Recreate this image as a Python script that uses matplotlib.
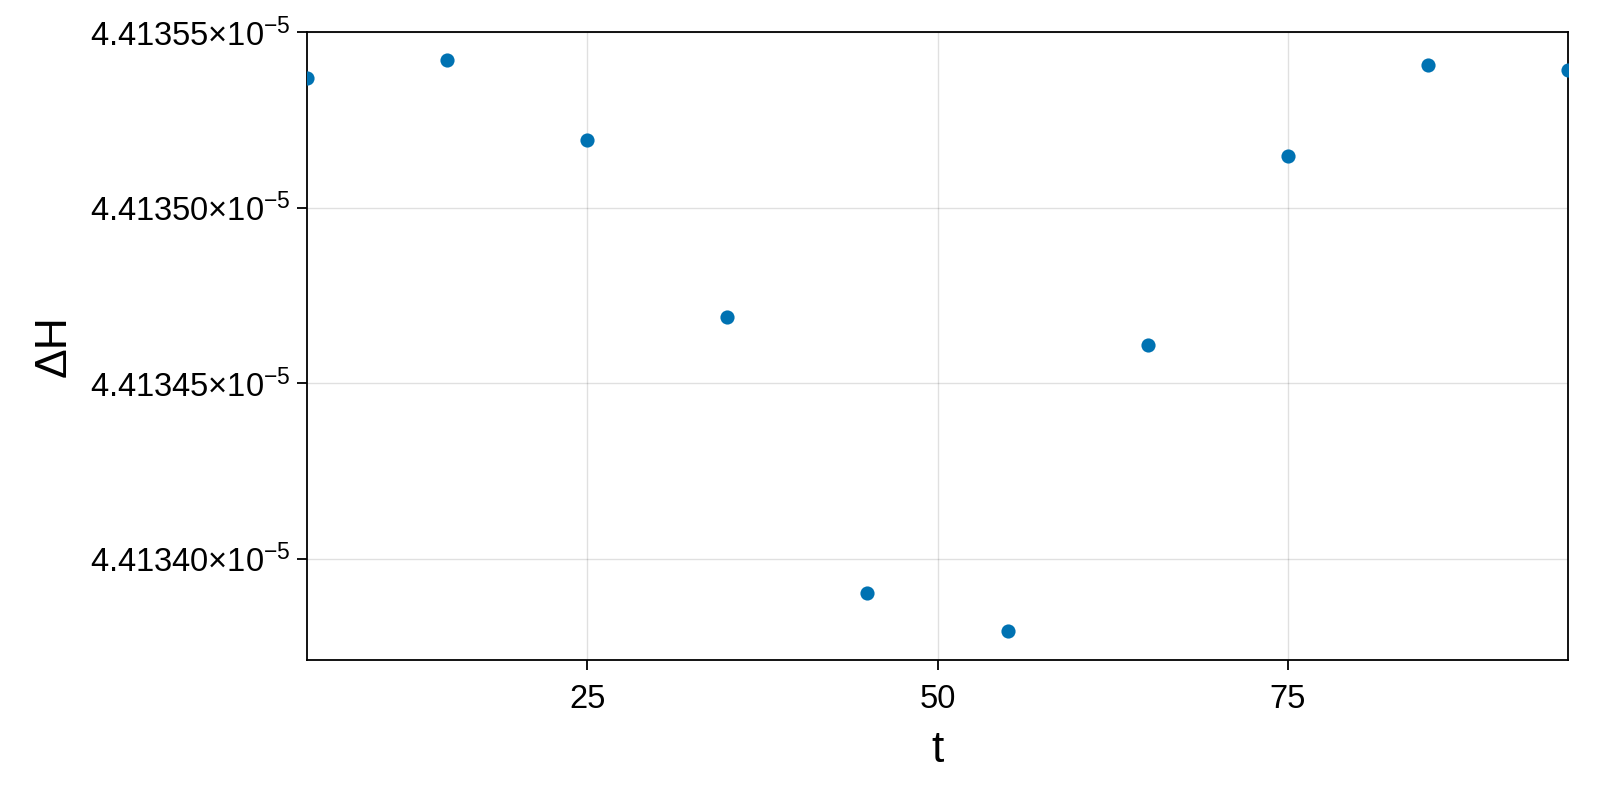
import matplotlib
matplotlib.use("Agg")
import matplotlib.pyplot as plt
from matplotlib.ticker import FixedLocator, FuncFormatter

# energy drift (values in units of 1e-5)
t = [5, 15, 25, 35, 45, 55, 65, 75, 85, 95]
dH = [4.4135370, 4.4135419, 4.4135193, 4.4134687, 4.4133901,
      4.4133795, 4.4134609, 4.4135146, 4.4135406, 4.4135391]
ytick_vals = [4.41340, 4.41345, 4.41350, 4.41355]
xtick_vals = [25, 50, 75]

plt.rcParams["font.family"] = ["Liberation Sans", "DejaVu Sans"]
plt.rcParams["mathtext.fontset"] = "custom"
plt.rcParams["mathtext.rm"] = "Liberation Sans"
plt.rcParams["mathtext.it"] = "Liberation Sans:italic"

scale = 1e-5
fig = plt.figure(figsize=(16, 8), dpi=100)
ax = fig.add_axes([0.1919, 0.175, 0.98 - 0.1919, 0.96 - 0.175])

ax.plot(t, [v * scale for v in dH], "o", color="#0072B2", ms=10.2, mec="none",
        clip_on=True, zorder=3)

ax.set_xlim(5, 95)
ax.set_ylim(4.4133711 * scale, 4.41355 * scale)
ax.xaxis.set_major_locator(FixedLocator(xtick_vals))
ax.yaxis.set_major_locator(FixedLocator([v * scale for v in ytick_vals]))
ax.yaxis.set_major_formatter(FuncFormatter(
    lambda y, _: r"$\mathregular{%.5f{\times}10^{-5}}$" % (y / scale)))

ax.grid(True, color="black", alpha=0.12, lw=1.0)
ax.set_axisbelow(True)
for s in ax.spines.values():
    s.set_linewidth(1.3)
ax.tick_params(direction="out", length=7, width=1.3, labelsize=23.5, pad=5)
ax.tick_params(axis="x", pad=10)

ax.set_xlabel("t", fontsize=32)
ax.set_ylabel("ΔH", fontsize=32)
ax.xaxis.set_label_coords(0.5, -0.112)
ax.yaxis.set_label_coords(-0.184, 0.5)

fig.savefig("out.png", dpi=100)
